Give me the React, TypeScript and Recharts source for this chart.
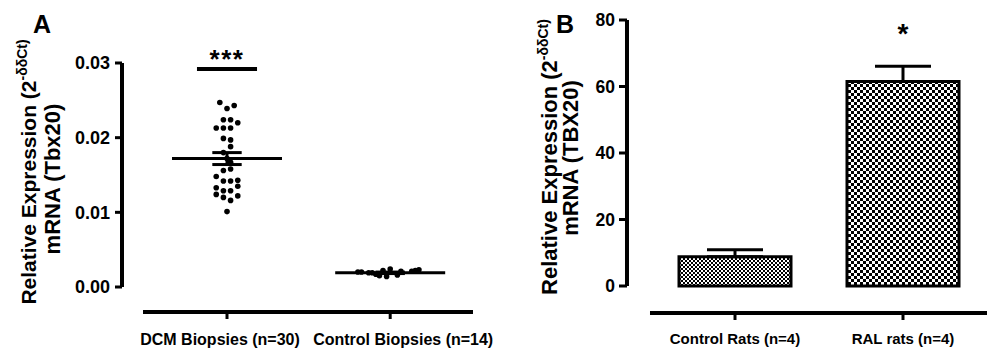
import React from "react";
import {
  Bar,
  BarChart,
  Cell,
  ErrorBar,
  ReferenceDot,
  ReferenceLine,
  Scatter,
  ScatterChart,
  XAxis,
  YAxis,
} from "recharts";

const FONT = '"Liberation Sans", Arial, Helvetica, sans-serif';

// Panel A: human biopsies (scatter dot plot, mean ± SEM)
const biopsyGroups = ["DCM Biopsies (n=30)", "Control Biopsies (n=14)"];
const dcmExpression = [
  0.0247, 0.0239, 0.0243, 0.0224, 0.0224, 0.022, 0.0213, 0.0213, 0.0213, 0.0199,
  0.0197, 0.0188, 0.018, 0.0172, 0.0167, 0.0158, 0.0156, 0.0148, 0.0142, 0.0142,
  0.0143, 0.0135, 0.0133, 0.0129, 0.0129, 0.0124, 0.012, 0.0122, 0.0116, 0.0101,
];
const dcmLanes = [-2, 0, 2, -1, 1, 3, -3, -1, 1, -1, 1, 1, -1, 0, 1, 1, -1, -3, -1, 1, 3, 3, -3, -1, 1, -3, -1, 3, 1, 0];
const controlBiopsyExpression = [
  0.002, 0.002, 0.0019, 0.0019, 0.0017, 0.0015, 0.0022, 0.0014, 0.0024, 0.0016, 0.0021, 0.0021, 0.0022, 0.0023,
];
const controlBiopsyLanes = [-9, -8, -6, -5, -4, -3, -2, -1, 0, 2, 3, 6, 7, 8];
const biopsyMean = [0.0172, 0.0019];
const biopsySem = [0.0008, 0.0001];
const biopsyTicks = [0, 0.01, 0.02, 0.03];
const biopsySignificance = "***";

// Panel B: rats (bar, mean + SEM)
const ratGroups = ["Control Rats (n=4)", "RAL rats (n=4)"];
const ratMean = [8.8, 61.5];
const ratSem = [2.1, 4.6];
const ratTicks = [0, 20, 40, 60, 80];
const ratSignificance = "*";

// beeswarm lane width, in x units
const LANE = 0.022;

const dcmPoints = dcmExpression.map((y, i) => ({ x: 1 + dcmLanes[i] * LANE, y }));
const controlBiopsyPoints = controlBiopsyExpression.map((y, i) => ({ x: 2 + controlBiopsyLanes[i] * LANE, y }));
const ratData = ratGroups.map((name, i) => ({ x: i + 1, name, mean: ratMean[i], sem: [0, ratSem[i]] }));

// Detached GraphPad-style axes are drawn as segments inside a slightly larger plot area.
const A_X: [number, number] = [0.2953, 2.5503];
const A_Y: [number, number] = [-0.005089, 0.031071];
const A_YAXIS_X = 0.3566;
const A_YTICK_X = 0.3137;
const A_XAXIS_Y = -0.003348;
const A_XTICK_Y = -0.004286;
const A_XAXIS_SPAN: [number, number] = [0.4853, 2.5074];

const B_X: [number, number] = [0.2976, 2.5];
const B_Y: [number, number] = [-11.729, 82.406];
const B_YAXIS_X = 0.3571;
const B_YTICK_X = 0.3095;
const B_XAXIS_Y = -8.12;
const B_XTICK_Y = -10.226;
const B_XAXIS_SPAN: [number, number] = [0.494, 2.5];

const axisStroke = { stroke: "#000", strokeWidth: 4, ifOverflow: "visible" as const };
const lineStroke = { stroke: "#000", strokeWidth: 3, ifOverflow: "visible" as const };
const tickStroke = { stroke: "#000", strokeWidth: 3, ifOverflow: "visible" as const };
const tickFont = { fill: "#000", fontFamily: FONT, fontWeight: 700 };

// the two group labels sit a little apart from their ticks
const biopsyLabelShift = [-7, 13];

function BiopsyTick(props: any) {
  const { x, y, payload } = props;
  const i = payload.value - 1;
  return (
    <text x={x + biopsyLabelShift[i]} y={y + 20} textAnchor="middle" fontSize={16} {...tickFont}>
      {biopsyGroups[i]}
    </text>
  );
}

function RatTick(props: any) {
  const { x, y, payload } = props;
  return (
    <text x={x} y={y + 19} textAnchor="middle" fontSize={15} {...tickFont}>
      {ratGroups[payload.value - 1]}
    </text>
  );
}

const Dot = (p: any) => <circle cx={p.cx} cy={p.cy} r={2.8} fill="#000" />;

function BiopsyPanel() {
  return (
    <ScatterChart width={520} height={349} margin={{ top: 55, right: 40, bottom: 0, left: 52 }}>
      <XAxis
        type="number"
        dataKey="x"
        domain={A_X}
        ticks={[1, 2]}
        interval={0}
        allowDataOverflow
        axisLine={false}
        tickLine={false}
        tickSize={0}
        tickMargin={0}
        height={24}
        tick={<BiopsyTick />}
      />
      <YAxis
        type="number"
        dataKey="y"
        domain={A_Y}
        ticks={biopsyTicks}
        allowDataOverflow
        axisLine={false}
        tickLine={false}
        tickSize={0}
        tickMargin={2}
        width={60}
        tick={{ ...tickFont, fontSize: 18 }}
        tickFormatter={(v: number) => v.toFixed(2)}
      />
      <ReferenceLine segment={[{ x: A_YAXIS_X, y: 0 }, { x: A_YAXIS_X, y: 0.03 }]} {...axisStroke} />
      {biopsyTicks.map((t) => (
        <ReferenceLine key={`yt${t}`} segment={[{ x: A_YTICK_X, y: t }, { x: A_YAXIS_X, y: t }]} {...tickStroke} />
      ))}
      <ReferenceLine segment={[{ x: A_XAXIS_SPAN[0], y: A_XAXIS_Y }, { x: A_XAXIS_SPAN[1], y: A_XAXIS_Y }]} {...axisStroke} />
      {[1, 2].map((g) => (
        <ReferenceLine key={`xt${g}`} segment={[{ x: g, y: A_XAXIS_Y }, { x: g, y: A_XTICK_Y }]} {...tickStroke} />
      ))}
      <Scatter data={dcmPoints} fill="#000" shape={Dot} isAnimationActive={false} />
      <Scatter data={controlBiopsyPoints} fill="#000" shape={Dot} isAnimationActive={false} />
      {biopsyMean.map((m, i) => (
        <ReferenceLine key={`mean${i}`} segment={[{ x: i + 0.663, y: m }, { x: i + 1.337, y: m }]} {...lineStroke} />
      ))}
      {biopsyMean.map((m, i) => (
        <ReferenceLine
          key={`semhi${i}`}
          segment={[{ x: i + 0.91, y: m + biopsySem[i] }, { x: i + 1.09, y: m + biopsySem[i] }]}
          {...lineStroke}
        />
      ))}
      {biopsyMean.map((m, i) => (
        <ReferenceLine
          key={`semlo${i}`}
          segment={[{ x: i + 0.91, y: m - biopsySem[i] }, { x: i + 1.09, y: m - biopsySem[i] }]}
          {...lineStroke}
        />
      ))}
      {biopsyMean.map((m, i) => (
        <ReferenceLine
          key={`semv${i}`}
          segment={[{ x: i + 1, y: m - biopsySem[i] }, { x: i + 1, y: m + biopsySem[i] }]}
          {...lineStroke}
        />
      ))}
      <ReferenceLine
        segment={[{ x: 0.816, y: 0.0292 }, { x: 1.184, y: 0.0292 }]}
        stroke="#000"
        strokeWidth={4}
        ifOverflow="visible"
        label={{
          value: biopsySignificance,
          position: "top",
          offset: 1,
          fill: "#000",
          fontSize: 26,
          fontWeight: 700,
          fontFamily: FONT,
          letterSpacing: 1.5,
        }}
      />
    </ScatterChart>
  );
}

function RatPanel() {
  return (
    <BarChart width={460} height={349} data={ratData} margin={{ top: 12, right: 0, bottom: 0, left: 30 }}>
      <defs>
        <pattern id="fineCheck" width="4" height="4" patternUnits="userSpaceOnUse">
          <rect width="4" height="4" fill="#000" />
          <rect x="0" y="0" width="2" height="2" fill="#fff" />
          <rect x="2" y="2" width="2" height="2" fill="#fff" />
        </pattern>
        <pattern id="coarseCheck" width="6" height="6" patternUnits="userSpaceOnUse">
          <rect width="6" height="6" fill="#000" />
          <rect x="0" y="0" width="3" height="3" fill="#fff" />
          <rect x="3" y="3" width="3" height="3" fill="#fff" />
        </pattern>
      </defs>
      <XAxis
        type="number"
        dataKey="x"
        domain={B_X}
        ticks={[1, 2]}
        interval={0}
        allowDataOverflow
        axisLine={false}
        tickLine={false}
        tickSize={0}
        tickMargin={0}
        height={24}
        tick={<RatTick />}
      />
      <YAxis
        type="number"
        domain={B_Y}
        ticks={ratTicks}
        allowDataOverflow
        axisLine={false}
        tickLine={false}
        tickSize={0}
        tickMargin={2}
        width={60}
        tick={{ ...tickFont, fontSize: 17.5 }}
      />
      <ReferenceLine segment={[{ x: B_YAXIS_X, y: 0 }, { x: B_YAXIS_X, y: 80 }]} {...axisStroke} />
      {ratTicks.map((t) => (
        <ReferenceLine key={`yt${t}`} segment={[{ x: B_YTICK_X, y: t }, { x: B_YAXIS_X, y: t }]} {...tickStroke} />
      ))}
      <ReferenceLine segment={[{ x: B_XAXIS_SPAN[0], y: B_XAXIS_Y }, { x: B_XAXIS_SPAN[1], y: B_XAXIS_Y }]} {...axisStroke} />
      {[1, 2].map((g) => (
        <ReferenceLine key={`xt${g}`} segment={[{ x: g, y: B_XAXIS_Y }, { x: g, y: B_XTICK_Y }]} {...tickStroke} />
      ))}
      <Bar dataKey="mean" barSize={112} stroke="#000" strokeWidth={3} isAnimationActive={false}>
        {ratData.map((d, i) => (
          <Cell key={d.name} fill={i === 0 ? "url(#fineCheck)" : "url(#coarseCheck)"} />
        ))}
        <ErrorBar dataKey="sem" width={28} stroke="#000" strokeWidth={3} direction="y" />
      </Bar>
      <ReferenceDot
        x={2}
        y={76}
        r={0}
        fill="none"
        stroke="none"
        ifOverflow="visible"
        label={{ value: ratSignificance, position: "center", fill: "#000", fontSize: 28, fontWeight: 700, fontFamily: FONT }}
      />
    </BarChart>
  );
}

function Titles() {
  const t = { fontFamily: FONT, fontWeight: 700, fill: "#000" } as const;
  return (
    <svg width={987} height={349} style={{ position: "absolute", left: 0, top: 0, pointerEvents: "none" }}>
      <text x={33} y={33} fontSize={25} {...t}>A</text>
      <text x={556} y={33} fontSize={25} {...t}>B</text>
      <text transform="translate(36,172) rotate(-90)" textAnchor="middle" fontSize={21} {...t}>
        Relative Expression (2<tspan dy={-9} fontSize={14}>-δδCt)</tspan>
      </text>
      <text transform="translate(60,179) rotate(-90)" textAnchor="middle" fontSize={22} {...t}>
        mRNA (Tbx20)
      </text>
      <text transform="translate(557,157) rotate(-90)" textAnchor="middle" fontSize={22} {...t}>
        Relative Expression (2<tspan dy={-9} fontSize={14}>-δδCt)</tspan>
      </text>
      <text transform="translate(578,158) rotate(-90)" textAnchor="middle" fontSize={22} {...t}>
        mRNA (TBX20)
      </text>
    </svg>
  );
}

export default function App() {
  return (
    <div style={{ position: "absolute", left: 0, top: 0, width: 987, height: 349, background: "#fff" }}>
      <div style={{ position: "absolute", left: 0, top: 0 }}>
        <BiopsyPanel />
      </div>
      <div style={{ position: "absolute", left: 527, top: 0 }}>
        <RatPanel />
      </div>
      <Titles />
    </div>
  );
}
